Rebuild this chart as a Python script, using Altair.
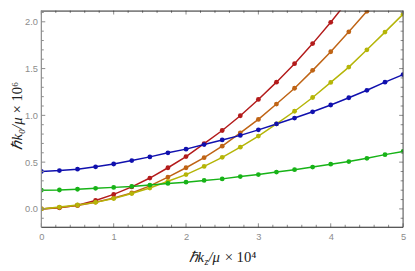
import altair as alt
import pandas as pd

# ---- data ----
kz = [0.0, 0.25, 0.5, 0.75, 1.0, 1.25, 1.5, 1.75, 2.0, 2.25, 2.5,
      2.75, 3.0, 3.25, 3.5, 3.75, 4.0, 4.25, 4.5, 4.75, 5.0]
red = [0.0, 0.012, 0.04, 0.09, 0.155, 0.235, 0.33, 0.44, 0.559, 0.698, 0.838,
       0.996, 1.17, 1.355, 1.552, 1.767, 1.995, 2.238]
orange = [0.0, 0.015, 0.035, 0.072, 0.116, 0.17, 0.246, 0.34, 0.44, 0.548, 0.671,
          0.813, 0.957, 1.121, 1.29, 1.481, 1.68, 1.893, 2.113, 2.345]
yellow = [0.0, 0.02, 0.042, 0.07, 0.11, 0.164, 0.223, 0.295, 0.367, 0.454, 0.551,
          0.66, 0.779, 0.908, 1.044, 1.191, 1.352, 1.516, 1.701, 1.89, 2.082]
green = [0.2, 0.202, 0.21, 0.22, 0.23, 0.24, 0.255, 0.272, 0.286, 0.304, 0.321,
         0.346, 0.367, 0.394, 0.419, 0.447, 0.478, 0.506, 0.541, 0.58, 0.614]
blue = [0.4, 0.41, 0.425, 0.45, 0.48, 0.517, 0.556, 0.6, 0.639, 0.688, 0.737,
        0.786, 0.845, 0.908, 0.971, 1.038, 1.111, 1.188, 1.268, 1.355, 1.436]

series_names = ["red", "orange", "yellow", "green", "blue"]
series_colors = ["#B31B1B", "#BF6415", "#B5B508", "#17B317", "#1010AE"]

x_major = [0, 1, 2, 3, 4, 5]
x_minor = [0.2, 0.4, 0.6, 0.8, 1.2, 1.4, 1.6, 1.8, 2.2, 2.4, 2.6, 2.8,
           3.2, 3.4, 3.6, 3.8, 4.2, 4.4, 4.6, 4.8]
y_major = [0.0, 0.5, 1.0, 1.5, 2.0]
y_minor = [-0.1, 0.1, 0.2, 0.3, 0.4, 0.6, 0.7, 0.8, 0.9, 1.1, 1.2, 1.3, 1.4,
           1.6, 1.7, 1.8, 1.9, 2.1]

y_title_a = "ℏk₀/μ"
y_title_b = "× 10⁶"
x_title_a = "ℏk"
x_title_sub = "z"
x_title_b = "/μ"
x_title_c = "× 10⁴"

# ---- build table ----
rows = []
for name, vals in zip(series_names, [red, orange, yellow, green, blue]):
    for x, v in zip(kz, vals):
        rows.append({"kz": x, "k0": v, "s": name})
df = pd.DataFrame(rows)

W, H = 369, 221
TICK = "#8a8a8a"
LABEL = "#8c8c8c"
SERIF = "Liberation Serif"
FS = 15

xs = alt.Scale(domain=[0, 5], nice=False, zero=False)
ys = alt.Scale(domain=[-0.196, 2.12], nice=False, zero=False)
cs = alt.Scale(domain=series_names, range=series_colors)

base = alt.Chart(df)
lines = base.mark_line(strokeWidth=1.5, clip=True).encode(
    x=alt.X("kz:Q", scale=xs,
            axis=alt.Axis(values=x_major, format="d", domain=False, ticks=False,
                          grid=False, labelColor=LABEL, labelFont="Liberation Sans",
                          labelFontSize=9.5, labelPadding=5, labelFlush=False,
                          title=None)),
    y=alt.Y("k0:Q", scale=ys,
            axis=alt.Axis(values=y_major, format=".1f", domain=False, ticks=False,
                          grid=False, labelColor=LABEL, labelFont="Liberation Sans",
                          labelFontSize=9.5, labelPadding=4, labelFlush=False,
                          title=None)),
    color=alt.Color("s:N", scale=cs, legend=None),
    detail="s:N",
)
points = base.mark_circle(size=24, opacity=1, clip=True).encode(
    x=alt.X("kz:Q", scale=xs),
    y=alt.Y("k0:Q", scale=ys),
    color=alt.Color("s:N", scale=cs, legend=None),
)


def yticks(vals, length, right=False):
    d = pd.DataFrame({"k0": vals})
    x0, x1 = (W - length, W) if right else (0, length)
    return alt.Chart(d).mark_rule(color=TICK, strokeWidth=1).encode(
        y=alt.Y("k0:Q", scale=ys), x=alt.value(x0), x2=alt.value(x1))


def xticks(vals, length, top=False):
    d = pd.DataFrame({"kz": vals})
    y0, y1 = (0, length) if top else (H - length, H)
    return alt.Chart(d).mark_rule(color=TICK, strokeWidth=1).encode(
        x=alt.X("kz:Q", scale=xs), y=alt.value(y0), y2=alt.value(y1))


ticks = [
    yticks(y_major, 4), yticks(y_minor, 2.5),
    yticks(y_major, 4, True), yticks(y_minor, 2.5, True),
    xticks(x_major, 4), xticks(x_minor, 2.5),
    xticks(x_major, 4, True), xticks(x_minor, 2.5, True),
]

frame_df = pd.DataFrame({"d": [0]})
fb = alt.Chart(frame_df)
frame = [
    fb.mark_rule(color="#222222", strokeWidth=1).encode(x=alt.value(0), x2=alt.value(W), y=alt.value(0.5)),
    fb.mark_rule(color="#222222", strokeWidth=1.2).encode(x=alt.value(0), x2=alt.value(W), y=alt.value(H)),
    fb.mark_rule(color="#444444", strokeWidth=1).encode(x=alt.value(W), y=alt.value(0), y2=alt.value(H)),
    fb.mark_rule(color="#8a8a8a", strokeWidth=1.2).encode(x=alt.value(0), y=alt.value(0), y2=alt.value(H)),
]

P1 = 166
TY = 256
YX = -25
titles = [
    fb.mark_text(text=x_title_a, font=SERIF, fontSize=FS, fontStyle="italic",
                 align="right", baseline="alphabetic", color="#222").encode(
        x=alt.value(P1), y=alt.value(TY)),
    fb.mark_text(text=x_title_sub, font=SERIF, fontSize=10, fontStyle="italic",
                 align="left", baseline="alphabetic", color="#222").encode(
        x=alt.value(P1 + 0.5), y=alt.value(TY + 3.5)),
    fb.mark_text(text=x_title_b, font=SERIF, fontSize=FS, fontStyle="italic",
                 align="left", baseline="alphabetic", color="#222").encode(
        x=alt.value(P1 + 4.5), y=alt.value(TY)),
    fb.mark_text(text=x_title_c, font=SERIF, fontSize=FS,
                 align="left", baseline="alphabetic", color="#222").encode(
        x=alt.value(P1 + 21), y=alt.value(TY)),
    fb.mark_text(text=y_title_a, font=SERIF, fontSize=FS, fontStyle="italic",
                 angle=270, align="right", baseline="middle", color="#222").encode(
        x=alt.value(YX), y=alt.value(109)),
    fb.mark_text(text=y_title_b, font=SERIF, fontSize=FS,
                 angle=270, align="left", baseline="middle", color="#222").encode(
        x=alt.value(YX), y=alt.value(105)),
]

chart = alt.layer(lines, points, *ticks, *frame, *titles).properties(
    width=W, height=H,
    autosize=alt.AutoSizeParams(type="none"),
    padding={"left": 34, "top": 0, "right": 4, "bottom": 42},
).configure_view(stroke=None)

chart.save("out.html", embed_options={"renderer": "svg", "actions": False})
